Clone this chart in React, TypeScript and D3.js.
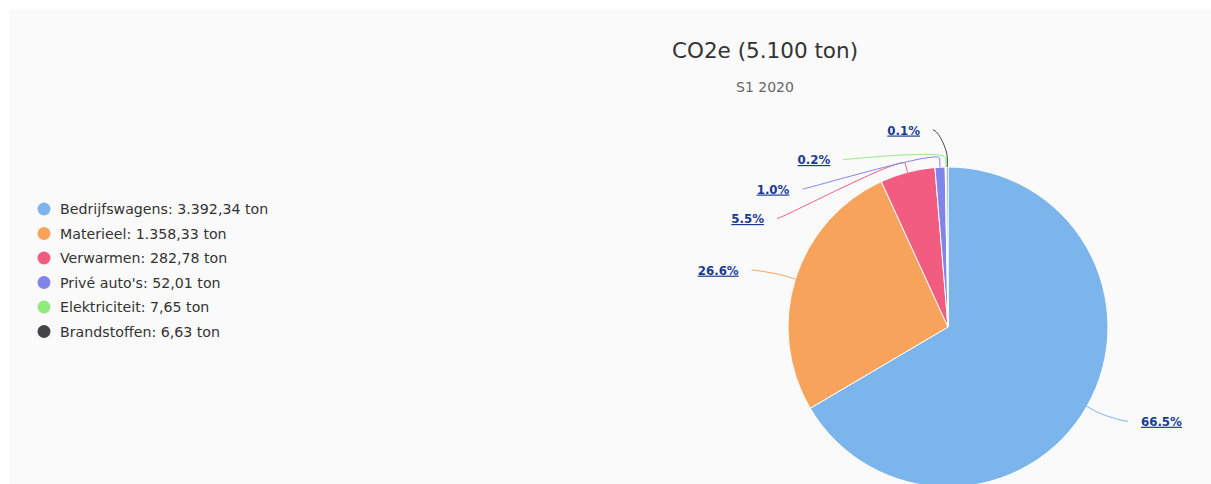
import * as d3 from "d3";

// CO2e per bron, S1 2020
const categories = ["Bedrijfswagens", "Materieel", "Verwarmen", "Privé auto's", "Elektriciteit", "Brandstoffen"];
const values = [3392.34, 1358.33, 282.78, 52.01, 7.65, 6.63];
const colors = ["#7cb5ec", "#f7a35c", "#f15c80", "#8085e9", "#90ed7d", "#434348"];
const subtitle = "S1 2020";

const nl = d3.formatLocale({ decimal: ",", thousands: ".", grouping: [3], currency: ["", ""] });
const fmtTon = nl.format(",.2f");
const fmtTotal = nl.format(",.0f");

export default function App() {
  const width = 1211;
  const height = 484;
  const font = "'DejaVu Sans', Verdana, sans-serif";

  // pie geometry
  const cx = 948;
  const cy = 327;
  const r = 160;
  const labelDistance = 30;
  const labelPadding = 15;
  const labelSpacing = 29.5;
  const plotTop = 115;
  const breakOffset = 9;

  const total = d3.sum(values);
  const data = categories.map((name, i) => ({ name, value: values[i], color: colors[i], i }));

  const pie = d3.pie<any>().value((d) => d.value).sort(null).startAngle(0).endAngle(2 * Math.PI);
  const arcs = pie(data);
  const arc = d3.arc<any>().innerRadius(0).outerRadius(r);

  // label layout (Highcharts style: natural position, distribute per side)
  const R = r + labelDistance;
  const labels = arcs.map((a) => {
    const mid = (a.startAngle + a.endAngle) / 2;
    const s = Math.sin(mid);
    const c = Math.cos(mid);
    return {
      a,
      mid,
      left: s < 0,
      natY: cy - R * c,
      y: 0,
      touch: [cx + r * s, cy - r * c],
      brk: [cx + (r + breakOffset) * s, cy - (r + breakOffset) * c],
    };
  });

  const distribute = (items: any[], minY: number, maxY: number) => {
    const sorted = [...items].sort((p, q) => p.natY - q.natY);
    let clusters = sorted.map((it) => ({ items: [it], top: it.natY }));
    const place = (cl: any) => {
      const n = cl.items.length;
      const t = d3.mean(cl.items, (it: any, k: number) => it.natY - k * labelSpacing) as number;
      cl.top = Math.max(minY, Math.min(maxY - (n - 1) * labelSpacing, t));
    };
    clusters.forEach(place);
    let merged = true;
    while (merged) {
      merged = false;
      for (let k = 0; k < clusters.length - 1; k++) {
        const p = clusters[k];
        const q = clusters[k + 1];
        if (p.top + p.items.length * labelSpacing > q.top) {
          const m = { items: [...p.items, ...q.items], top: 0 };
          place(m);
          clusters.splice(k, 2, m);
          merged = true;
          break;
        }
      }
    }
    clusters.forEach((cl) => cl.items.forEach((it: any, k: number) => (it.y = cl.top + k * labelSpacing)));
  };
  const minY = plotTop + 15;
  const maxY = height + 40;
  distribute(labels.filter((l) => l.left), minY, maxY);
  distribute(labels.filter((l) => !l.left), minY, maxY);

  const pct = (v: number) => ((v / total) * 100).toFixed(1) + "%";

  const legendX = 44;
  const legendY = 209;
  const legendStep = 24.5;

  return (
    <svg
      width={width}
      height={height}
      style={{ position: "absolute", left: 0, top: 0, display: "block", background: "#ffffff" }}
    >
      <rect x={9} y={10} width={width - 9} height={height - 10} fill="#fafafa" />

      <text x={765} y={58} textAnchor="middle" fontFamily={font} fontSize={21.5} fill="#333333">
        {`CO2e (${fmtTotal(total)} ton)`}
      </text>
      <text x={765} y={92} textAnchor="middle" fontFamily={font} fontSize={14} fill="#666666">
        {subtitle}
      </text>

      {/* legend */}
      <g fontFamily={font} fontSize={14.2} fill="#333333">
        {data.map((d, i) => (
          <g key={d.name} transform={`translate(${legendX},${legendY + i * legendStep})`}>
            <circle r={6.5} fill={d.color} />
            <text x={16} y={5}>{`${d.name}: ${fmtTon(d.value)} ton`}</text>
          </g>
        ))}
      </g>

      {/* slices */}
      <g transform={`translate(${cx},${cy})`}>
        {arcs.map((a) => (
          <path key={a.data.name} d={arc(a) as string} fill={a.data.color} stroke="#ffffff" strokeWidth={1} strokeLinejoin="round" />
        ))}
      </g>

      {/* connectors and labels */}
      {labels.map((l) => {
        const dy = l.y - cy;
        const dx = Math.sqrt(Math.max(0, R * R - dy * dy)) + labelPadding;
        const sgn = l.left ? -1 : 1;
        const lx = cx + sgn * dx;
        const ly = l.y;
        const [bx, by] = l.brk;
        const [tx, ty] = l.touch;
        const path =
          `M${lx},${ly} C${lx - sgn * 5},${ly} ${2 * bx - tx},${2 * by - ty} ${bx},${by} L${tx},${ty}`;
        return (
          <g key={l.a.data.name}>
            <path d={path} fill="none" stroke={l.a.data.color} strokeWidth={1} />
            <text
              x={lx + sgn * 13}
              y={ly + 4.5}
              textAnchor={l.left ? "end" : "start"}
              fontFamily={font}
              fontSize={11.8}
              fontWeight="bold"
              fill="#1a3a96"
              textDecoration="underline"
            >
              {pct(l.a.data.value)}
            </text>
          </g>
        );
      })}
    </svg>
  );
}
